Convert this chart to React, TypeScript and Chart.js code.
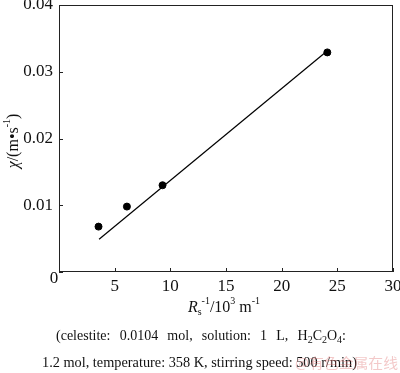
import React, { useEffect, useRef } from "react";
import { Chart, registerables } from "chart.js";

Chart.register(...registerables);

const pointsX = [3.55, 6.1, 9.3, 24.1];
const pointsY = [0.0068, 0.0098, 0.0130, 0.0329];
const fitX = [3.6, 24.0];
const fitY = [0.0049, 0.0330];
const xTicks = [0, 5, 10, 15, 20, 25, 30];
const yTicks = [0, 0.01, 0.02, 0.03, 0.04];
const captionLine1 = ["(celestite:", "0.0104", "mol,", "solution:", "1", "L,", "H2C2O4:"];
const captionLine2 = "1.2 mol, temperature: 358 K, stirring speed: 500 r/min)";
const watermark = "@有色金属在线";

const SERIF = "'Liberation Serif', 'Times New Roman', serif";

function drawRich(ctx: CanvasRenderingContext2D, parts: { t: string; f: string; dy?: number }[], x: number, y: number, align: "center" | "left") {
  let total = 0;
  for (const p of parts) {
    ctx.font = p.f;
    total += ctx.measureText(p.t).width;
  }
  let cx = align === "center" ? x - total / 2 : x;
  for (const p of parts) {
    ctx.font = p.f;
    ctx.fillText(p.t, cx, y + (p.dy || 0));
    cx += ctx.measureText(p.t).width;
  }
}

const decorPlugin = {
  id: "decor",
  afterDraw(chart: any) {
    const ctx: CanvasRenderingContext2D = chart.ctx;
    const { left, right, top, bottom } = chart.chartArea;
    const xs = chart.scales.x;
    const ys = chart.scales.y;
    ctx.save();
    ctx.strokeStyle = "#222";
    ctx.lineWidth = 1;
    ctx.strokeRect(left + 0.5, top + 0.5, right - left - 1, bottom - top - 1);
    // inward ticks
    ctx.beginPath();
    for (const v of yTicks) {
      const py = Math.round(ys.getPixelForValue(v)) + 0.5;
      ctx.moveTo(left, py);
      ctx.lineTo(left + 4, py);
    }
    for (const v of xTicks) {
      const px = Math.round(xs.getPixelForValue(v)) + 0.5;
      ctx.moveTo(px, bottom);
      ctx.lineTo(px, bottom - 4);
    }
    ctx.stroke();

    ctx.fillStyle = "#111";
    ctx.textBaseline = "middle";
    ctx.textAlign = "center";
    ctx.font = `17px ${SERIF}`;
    ctx.fillText("0", left - 5, bottom + 7);

    // x title
    ctx.textAlign = "left";
    ctx.textBaseline = "alphabetic";
    const big = `16px ${SERIF}`;
    const it = `italic 16px ${SERIF}`;
    const sm = `10px ${SERIF}`;
    drawRich(ctx, [
      { t: "R", f: it },
      { t: "s", f: sm, dy: 3 },
      { t: "-1", f: sm, dy: -8 },
      { t: "/10", f: big },
      { t: "3", f: sm, dy: -8 },
      { t: " m", f: big },
      { t: "-1", f: sm, dy: -8 },
    ], 224, 312, "center");

    // y title
    ctx.save();
    ctx.translate(18, 141);
    ctx.rotate(-Math.PI / 2);
    drawRich(ctx, [
      { t: "χ", f: it },
      { t: "/(m•s", f: big },
      { t: "-1", f: sm, dy: -8 },
      { t: ")", f: big },
    ], 0, 0, "center");
    ctx.restore();

    // caption
    const cf = `14px ${SERIF}`;
    const csub = `10px ${SERIF}`;
    ctx.font = cf;
    const l1x0 = 56, l1x1 = 346, l1y = 340;
    const chemParts = [
      { t: "H", f: cf }, { t: "2", f: csub, dy: 3 },
      { t: "C", f: cf }, { t: "2", f: csub, dy: 3 },
      { t: "O", f: cf }, { t: "4", f: csub, dy: 3 },
      { t: ":", f: cf },
    ];
    let chemW = 0;
    for (const p of chemParts) { ctx.font = p.f; chemW += ctx.measureText(p.t).width; }
    ctx.font = cf;
    const ws = captionLine1.map((w) => (w === "H2C2O4:" ? chemW : ctx.measureText(w).width));
    const sumW = ws.reduce((a, b) => a + b, 0);
    const gap = (l1x1 - l1x0 - sumW) / (ws.length - 1);
    let cx = l1x0;
    captionLine1.forEach((w, i) => {
      if (w === "H2C2O4:") {
        drawRich(ctx, chemParts, cx, l1y, "left");
      } else {
        ctx.font = cf;
        ctx.fillText(w, cx, l1y);
      }
      cx += ws[i] + gap;
    });
    ctx.font = cf;
    const w2 = ctx.measureText(captionLine2).width;
    const target2 = 315;
    ctx.save();
    ctx.translate(42, 367);
    ctx.scale(target2 / w2, 1);
    ctx.fillText(captionLine2, 0, 0);
    ctx.restore();

    // watermark
    ctx.font = `14px 'Noto Sans CJK SC', sans-serif`;
    ctx.fillStyle = "rgba(225, 120, 120, 0.4)";
    const ww = ctx.measureText(watermark).width;
    ctx.save();
    ctx.translate(295, 368);
    ctx.scale(103 / ww, 1);
    ctx.fillText(watermark, 0, 0);
    ctx.restore();
    ctx.restore();
  },
};

export default function App() {
  const ref = useRef<HTMLCanvasElement | null>(null);
  useEffect(() => {
    document.body.style.margin = "0";
    const canvas = ref.current!;
    const chart = new Chart(canvas, {
      type: "scatter",
      data: {
        datasets: [
          {
            data: pointsX.map((x, i) => ({ x, y: pointsY[i] })),
            backgroundColor: "#000",
            borderColor: "#000",
            pointRadius: 3.5,
            pointHoverRadius: 3.5,
          },
          {
            data: fitX.map((x, i) => ({ x, y: fitY[i] })),
            showLine: true,
            borderColor: "#000",
            borderWidth: 1.2,
            pointRadius: 0,
          },
        ],
      },
      options: {
        responsive: false,
        animation: false,
        layout: { padding: { left: 0, right: 7, top: 5, bottom: 0 } },
        plugins: { legend: { display: false }, tooltip: { enabled: false } },
        scales: {
          x: {
            type: "linear",
            min: 0,
            max: 30,
            afterBuildTicks: (s: any) => { s.ticks = xTicks.map((v) => ({ value: v })); },
            ticks: {
              callback: (v: any) => (v === 0 ? "" : String(v)),
              font: { family: SERIF, size: 17 },
              color: "#111",
              padding: 4,
              maxRotation: 0,
            },
            grid: { display: false, drawTicks: false },
            border: { display: false },
            afterFit: (s: any) => { s.height = 101; s.paddingLeft = 0; s.paddingRight = 0; },
          },
          y: {
            type: "linear",
            min: 0,
            max: 0.04,
            afterBuildTicks: (s: any) => { s.ticks = yTicks.map((v) => ({ value: v })); },
            ticks: {
              callback: (v: any) => (v === 0 ? "" : Number(v).toFixed(2)),
              font: { family: SERIF, size: 17 },
              color: "#111",
              padding: 6,
            },
            grid: { display: false, drawTicks: false },
            border: { display: false },
            afterFit: (s: any) => { s.width = 59; s.paddingTop = 0; s.paddingBottom = 0; },
          },
        },
      },
      plugins: [decorPlugin],
    });
    return () => chart.destroy();
  }, []);
  return (
    <div style={{ width: 400, height: 373, background: "#fff" }}>
      <canvas ref={ref} width={400} height={373} />
    </div>
  );
}
